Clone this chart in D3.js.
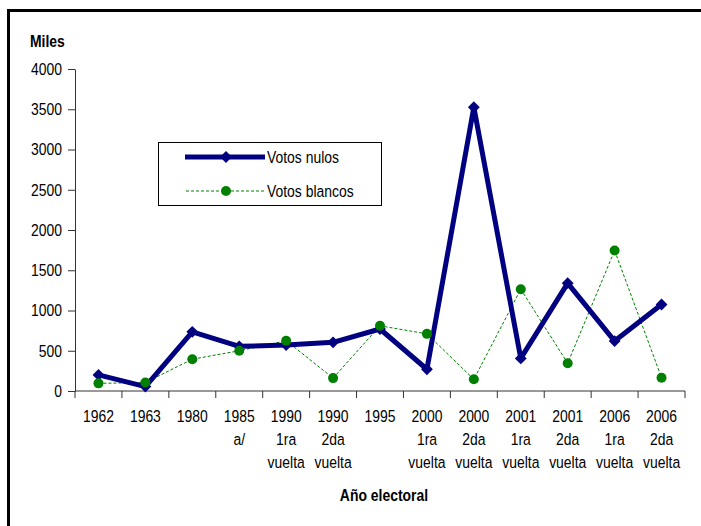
<!DOCTYPE html>
<html>
<head>
<meta charset="utf-8">
<script src="https://cdnjs.cloudflare.com/ajax/libs/d3/7.8.5/d3.min.js"></script>
<style>
  body { margin: 0; background: #fff; }
  svg text { font-family: "Liberation Sans", Arial, sans-serif; font-size: 17px;
             transform-box: fill-box; transform: scaleX(0.82); }
  svg text.mid { transform-origin: center center; }
  svg text.lft { transform-origin: left center; }
  svg text.rgt { transform-origin: right center; }
</style>
</head>
<body>
<div id="chart"></div>
<script>
// categories (multi-line labels)
var categories = [
  ["1962"], ["1963"], ["1980"], ["1985", "a/"],
  ["1990", "1ra", "vuelta"], ["1990", "2da", "vuelta"], ["1995"],
  ["2000", "1ra", "vuelta"], ["2000", "2da", "vuelta"],
  ["2001", "1ra", "vuelta"], ["2001", "2da", "vuelta"],
  ["2006", "1ra", "vuelta"], ["2006", "2da", "vuelta"]
];
var votosNulos   = [200, 55, 735, 555, 570, 605, 770, 270, 3525, 405, 1340, 620, 1075];
var votosBlancos = [95, 105, 395, 500, 625, 160, 810, 710, 145, 1265, 345, 1745, 165];
var yTicks = [0, 500, 1000, 1500, 2000, 2500, 3000, 3500, 4000];

var W = 701, H = 526;
var margin = {top: 69, left: 75, right: 16, bottom: 135};
var width = 685 - margin.left, height = 391 - margin.top;

var svg = d3.select("#chart").append("svg")
  .attr("width", W).attr("height", H);

// outer border (runs off right and bottom)
svg.append("rect")
  .attr("x", 8.5).attr("y", 10.5)
  .attr("width", 720).attr("height", 540)
  .attr("fill", "none").attr("stroke", "#000").attr("stroke-width", 3);

var g = svg.append("g")
  .attr("transform", "translate(" + margin.left + "," + margin.top + ")");

var x = d3.scaleBand()
  .domain(d3.range(categories.length))
  .range([0, width]);

var y = d3.scaleLinear()
  .domain([0, 4000])
  .range([height, 0]);

// y axis
var yAxis = g.append("g")
  .call(d3.axisLeft(y).tickValues(yTicks).tickFormat(d3.format("d"))
    .tickSize(7).tickPadding(6).tickSizeOuter(0));
yAxis.selectAll("text").attr("class", "rgt").attr("fill", "#000");
yAxis.select(".domain").attr("stroke", "#333");
yAxis.selectAll(".tick line").attr("stroke", "#333");

// x axis: line + ticks at band boundaries
var xa = g.append("g").attr("transform", "translate(0," + height + ")");
xa.append("line").attr("x1", 0).attr("x2", width).attr("stroke", "#333");
xa.selectAll("line.tk")
  .data(d3.range(categories.length + 1))
  .enter().append("line")
  .attr("class", "tk")
  .attr("x1", function(d) { return d < categories.length ? x(d) : width; })
  .attr("x2", function(d) { return d < categories.length ? x(d) : width; })
  .attr("y1", 0).attr("y2", 7)
  .attr("stroke", "#333");

var lbl = xa.selectAll("text.cat")
  .data(categories)
  .enter().append("text")
  .attr("class", "mid")
  .attr("text-anchor", "middle")
  .attr("fill", "#000");
lbl.each(function(d, i) {
  var t = d3.select(this);
  d.forEach(function(s, j) {
    t.append("tspan")
      .attr("x", x(i) + x.bandwidth() / 2)
      .attr("y", 31 + j * 23)
      .text(s);
  });
});

// titles
svg.append("text").attr("class", "lft").attr("x", 30).attr("y", 47)
  .style("font-weight", "bold")
  .text("Miles");
svg.append("text").attr("class", "mid").attr("x", 384).attr("y", 501)
  .attr("text-anchor", "middle")
  .style("font-weight", "bold")
  .text("Año electoral");

var cx = function(d, i) { return x(i) + x.bandwidth() / 2; };

// votos blancos
g.append("path")
  .datum(votosBlancos)
  .attr("fill", "none").attr("stroke", "#008000")
  .attr("stroke-width", 1).attr("stroke-dasharray", "3,2")
  .attr("d", d3.line().x(cx).y(function(d) { return y(d); }));

// votos nulos
g.append("path")
  .datum(votosNulos)
  .attr("fill", "none").attr("stroke", "#000080")
  .attr("stroke-width", 5).attr("stroke-linejoin", "round")
  .attr("d", d3.line().x(cx).y(function(d) { return y(d); }));

var diamond = d3.symbol().type(d3.symbolSquare).size(70);
g.selectAll("path.dn")
  .data(votosNulos)
  .enter().append("path")
  .attr("class", "dn")
  .attr("d", diamond)
  .attr("transform", function(d, i) { return "translate(" + cx(d, i) + "," + y(d) + ") rotate(45)"; })
  .attr("fill", "#000080");

g.selectAll("circle.bl")
  .data(votosBlancos)
  .enter().append("circle")
  .attr("class", "bl")
  .attr("cx", cx).attr("cy", function(d) { return y(d); })
  .attr("r", 5)
  .attr("fill", "#008000");

// legend
var leg = svg.append("g");
leg.append("rect")
  .attr("x", 158.5).attr("y", 142.5).attr("width", 223).attr("height", 63)
  .attr("fill", "#fff").attr("stroke", "#000").attr("stroke-width", 1);
leg.append("line").attr("x1", 185).attr("x2", 265).attr("y1", 157).attr("y2", 157)
  .attr("stroke", "#000080").attr("stroke-width", 5);
leg.append("path").attr("d", diamond)
  .attr("transform", "translate(226,157) rotate(45)").attr("fill", "#000080");
leg.append("text").attr("class", "lft").attr("x", 267).attr("y", 163)
  .text("Votos nulos");
leg.append("line").attr("x1", 186).attr("x2", 264).attr("y1", 191).attr("y2", 191)
  .attr("stroke", "#008000").attr("stroke-width", 1).attr("stroke-dasharray", "3,2");
leg.append("circle").attr("cx", 226).attr("cy", 191).attr("r", 5).attr("fill", "#008000");
leg.append("text").attr("class", "lft").attr("x", 267).attr("y", 197)
  .text("Votos blancos");
</script>
</body>
</html>
